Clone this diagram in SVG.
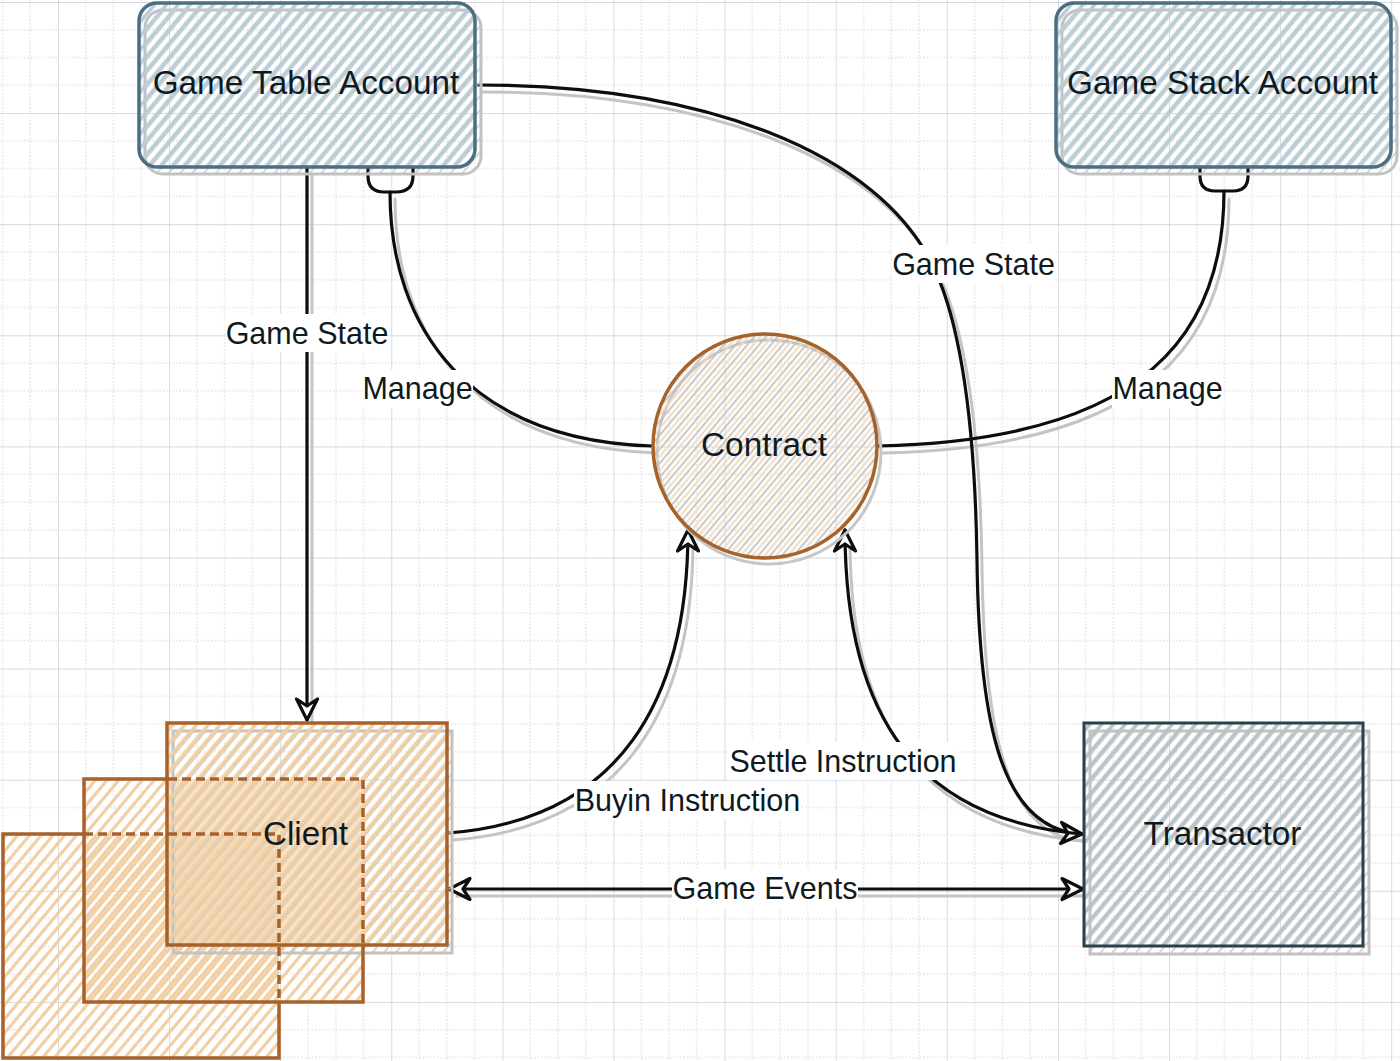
<svg xmlns="http://www.w3.org/2000/svg" width="1400" height="1061" viewBox="0 0 1400 1061">
<style>
.lbl{font-family:"Liberation Sans",Arial,sans-serif;font-size:30.5px;fill:#0f1a1f;text-anchor:middle}
.ntx{font-family:"Liberation Sans",Arial,sans-serif;font-size:33.3px;fill:#0f1a1f;text-anchor:middle}
.wire{fill:none;stroke:#0d0d0d;stroke-width:3.2;stroke-linecap:round}
.wsh{fill:none;stroke:#c4c4c4;stroke-width:3;stroke-linecap:round}
.lbg{fill:#ffffff}
.sh{fill:url(#hGray);stroke:#c2c2c2;stroke-width:3}
.acct{fill:url(#hBlue);stroke:#4b6f80;stroke-width:3.5}
.brown{fill:none;stroke:#a7622b;stroke-width:3.5}
.dash{fill:none;stroke:#a7622b;stroke-width:3.5;stroke-dasharray:9 5}
</style>
<defs>
<pattern id="grid" patternUnits="userSpaceOnUse" x="58" y="2" width="111.1" height="111.1">
<path d="M27.78,0V111.1M55.55,0V111.1M83.33,0V111.1M0,27.78H111.1M0,55.55H111.1M0,83.33H111.1" stroke="#dccfcf" stroke-width="1" stroke-dasharray="1.5 2" fill="none"/>
<path d="M0,0V111.1M0,0H111.1" stroke="#c3cfd6" stroke-width="1.4" fill="none"/>
</pattern>
<pattern id="hBlue" patternUnits="userSpaceOnUse" width="9" height="9" patternTransform="rotate(40)">
<line x1="4.5" y1="0" x2="4.5" y2="9" stroke="#b9cdd6" stroke-width="3.6"/>
</pattern>
<pattern id="hGray" patternUnits="userSpaceOnUse" width="9" height="9" patternTransform="rotate(40) translate(2,0)">
<line x1="4.5" y1="0" x2="4.5" y2="9" stroke="#c4c4c4" stroke-width="1.4"/>
</pattern>
<pattern id="hTrans" patternUnits="userSpaceOnUse" width="9" height="9" patternTransform="rotate(40)">
<line x1="4.5" y1="0" x2="4.5" y2="9" stroke="#b8c3c7" stroke-width="3.6"/>
</pattern>
<pattern id="hPeach" patternUnits="userSpaceOnUse" width="9" height="9" patternTransform="rotate(40)">
<line x1="4.5" y1="0" x2="4.5" y2="9" stroke="#f1cfa3" stroke-width="3.6"/>
</pattern>
<pattern id="hPeach2" patternUnits="userSpaceOnUse" width="9" height="9" patternTransform="rotate(40) translate(3,0)">
<line x1="4.5" y1="0" x2="4.5" y2="9" stroke="#f1cfa3" stroke-width="3.2"/>
</pattern>
<pattern id="hPeach3" patternUnits="userSpaceOnUse" width="9" height="9" patternTransform="rotate(40) translate(6,0)">
<line x1="4.5" y1="0" x2="4.5" y2="9" stroke="#f1cfa3" stroke-width="3.2"/>
</pattern>
<pattern id="hContract" patternUnits="userSpaceOnUse" width="9" height="9" patternTransform="rotate(40)">
<line x1="2.2" y1="0" x2="2.2" y2="9" stroke="#c2c2c2" stroke-width="1.8"/>
<line x1="6.7" y1="0" x2="6.7" y2="9" stroke="#f1d9c0" stroke-width="2"/>
</pattern>
<marker id="arr" viewBox="-25 -14 29 28" refX="0" refY="0" markerWidth="29" markerHeight="28" markerUnits="userSpaceOnUse" orient="auto-start-reverse">
<path d="M-21,-10.5 L0,0 L-21,10.5 L-14,0 Z" fill="#ffffff" stroke="#0d0d0d" stroke-width="3.2" stroke-linejoin="round"/>
</marker>
</defs>

<rect width="1400" height="1061" fill="#ffffff"/>
<rect width="1400" height="1061" fill="url(#grid)"/>

<g id="connectors">
<g transform="translate(5,7)">
<path class="wsh" d="M307,167 L307,716"/>
<path class="wsh" d="M390,192 C390,330 470,440 652,446"/>
<path class="wsh" d="M1224,192 C1224,330 1150,440 878,446"/>
<path class="wsh" d="M478,85 C700,85 880,150 935,270 C960,325 975,420 977,560 C979,720 1000,830 1078,834"/>
<path class="wsh" d="M1078,834 C920,820 845,720 845,534"/>
<path class="wsh" d="M448,833 C620,820 688,700 688,534"/>
<path class="wsh" d="M452,889 L1079,889"/>
</g>
<path class="wire" d="M307,167 L307,720" marker-end="url(#arr)"/>
<path class="wire" d="M368,167 L368,176 Q368,192 384,192 L396,192 Q413,192 413,176 L413,167"/>
<path class="wire" d="M390,192 C390,330 470,440 652,446"/>
<path class="wire" d="M1200,167 L1200,176 Q1200,191 1215,191 L1233,191 Q1248,191 1248,176 L1248,167"/>
<path class="wire" d="M1224,191 C1224,330 1150,440 878,446"/>
<path class="wire" d="M478,85 C700,85 880,150 935,270 C960,325 975,420 977,560 C979,720 1000,830 1082,834" marker-end="url(#arr)"/>
<path class="wire" d="M1082,834 C920,820 845,720 845,530" marker-end="url(#arr)"/>
<path class="wire" d="M448,833 C620,820 688,700 688,530" marker-end="url(#arr)"/>
<path class="wire" d="M449,889 L1083,889" marker-start="url(#arr)" marker-end="url(#arr)"/>

<rect class="lbg" x="226" y="314" width="162" height="38"/>
<text class="lbl" x="307" y="344">Game State</text>
<rect class="lbg" x="363" y="370" width="110" height="38"/>
<text class="lbl" x="417.5" y="399">Manage</text>
<rect class="lbg" x="892" y="245" width="163" height="38"/>
<text class="lbl" x="973.5" y="275">Game State</text>
<rect class="lbg" x="1112" y="370" width="111" height="38"/>
<text class="lbl" x="1167.5" y="399">Manage</text>
<rect class="lbg" x="728" y="742" width="230" height="38"/>
<text class="lbl" x="843" y="772">Settle Instruction</text>
<rect class="lbg" x="574" y="781" width="227" height="38"/>
<text class="lbl" x="687.5" y="811">Buyin Instruction</text>
<rect class="lbg" x="672" y="870" width="186" height="38"/>
<text class="lbl" x="765" y="899">Game Events</text>
</g>

<g id="game-table-account">
<rect class="sh" x="145" y="10" width="336" height="164" rx="18"/>
<rect class="acct" x="139" y="3" width="336" height="164" rx="18"/>
<text class="ntx" x="306" y="94">Game Table Account</text>
</g>

<g id="game-stack-account">
<rect class="sh" x="1062" y="10" width="335" height="164" rx="18"/>
<rect class="acct" x="1056" y="3" width="335" height="164" rx="18"/>
<text class="ntx" x="1222.5" y="94">Game Stack Account</text>
</g>

<g id="contract">
<circle cx="769" cy="452" r="112" fill="none" stroke="#c6c6c6" stroke-width="3"/>
<circle cx="765" cy="446" r="112" fill="url(#hContract)" stroke="#a5622a" stroke-width="3.5"/>
<text class="ntx" x="764" y="456">Contract</text>
</g>

<g id="client">
<rect x="3" y="834" width="276" height="224" fill="url(#hPeach3)"/>
<rect x="84" y="779" width="279" height="223" fill="url(#hPeach2)"/>
<rect x="168" y="779" width="195" height="166" fill="#f5dcbb" opacity="0.75"/>
<rect class="sh" x="173" y="731" width="279" height="222"/>
<rect x="167" y="723" width="280" height="222" fill="url(#hPeach)"/>
<path class="brown" d="M84,834 L3,834 L3,1058 L279,1058 L279,1002"/>
<path class="dash" d="M84,834 L279,834 L279,1002"/>
<path class="brown" d="M168,779 L84,779 L84,1002 L363,1002 L363,945"/>
<path class="dash" d="M168,779 L363,779 L363,945"/>
<rect class="brown" x="167" y="723" width="280" height="222"/>
<text class="ntx" x="305.5" y="845">Client</text>
</g>

<g id="transactor">
<rect class="sh" x="1090" y="731" width="279" height="223"/>
<rect x="1084" y="723" width="279" height="223" fill="url(#hTrans)" stroke="#27414d" stroke-width="3"/>
<text class="ntx" x="1222.5" y="845">Transactor</text>
</g>
</svg>
